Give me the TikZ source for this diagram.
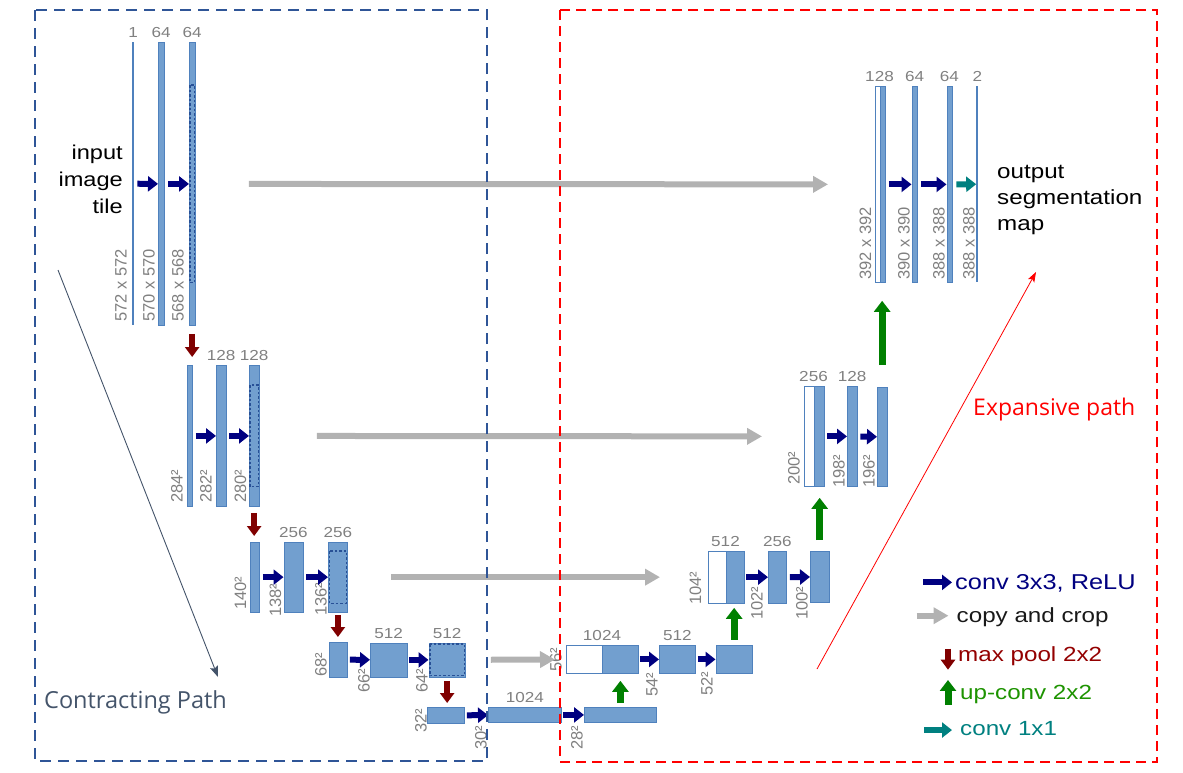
\documentclass[tikz,border=0pt]{standalone}
\usepackage{fontspec}
\setmainfont[FakeStretch=1.18]{Liberation Sans}
\newfontfamily\dimfont{Liberation Sans}
\newfontfamily\pathfont{Open Sans}
\usetikzlibrary{arrows.meta, positioning}
\definecolor{mapfill}{RGB}{114,159,207}
\definecolor{mapedge}{RGB}{79,129,189}
\definecolor{cropedge}{RGB}{40,80,150}
\definecolor{lblgray}{RGB}{128,128,128}
\definecolor{convblue}{RGB}{0,0,128}
\definecolor{copygray}{RGB}{178,178,178}
\definecolor{poolred}{RGB}{128,0,0}
\definecolor{upgreen}{RGB}{0,128,0}
\definecolor{outteal}{RGB}{0,128,128}
\definecolor{contractblue}{RGB}{47,85,151}
\definecolor{pathgray}{RGB}{68,84,106}
\tikzstyle{fmap} = [rectangle, anchor=north west, inner sep=0, draw=mapedge, fill=mapfill, line width=0.8pt]
\tikzstyle{cropmap} = [fmap, fill=white]
\tikzstyle{thinmap} = [rectangle, anchor=north west, inner sep=0, fill=mapedge, minimum width=1.8pt]
\tikzstyle{cropline} = [draw=cropedge, line width=1.2pt, dash pattern=on 2.5pt off 2pt]
\tikzstyle{chlabel} = [anchor=south, inner sep=0, yshift=4pt, text=lblgray, font=\fontsize{14.5}{14.5}\selectfont]
\tikzstyle{dimlabel} = [anchor=south west, rotate=90, inner sep=0, text=lblgray, font=\dimfont\fontsize{16.5}{16.5}\selectfont]
\tikzstyle{convarrow} = [draw=convblue, line width=6pt, -{Triangle[length=10pt,width=15pt]}]
\tikzstyle{outarrow} = [convarrow, draw=outteal]
\tikzstyle{copyarrow} = [draw=copygray, line width=6pt, -{Triangle[length=15pt,width=16pt]}]
\tikzstyle{poolarrow} = [draw=poolred, line width=6pt, -{Triangle[length=10pt,width=14pt]}]
\tikzstyle{uparrow} = [draw=upgreen, line width=7pt, -{Triangle[length=11pt,width=16pt]}]
\tikzstyle{legend} = [anchor=base west, inner sep=0, font=\fontsize{20.5}{20.5}\selectfont]
\tikzstyle{contractbox} = [draw=contractblue, line width=2.8pt, dash pattern=on 11pt off 7pt]
\tikzstyle{expandbox} = [draw=red, line width=2.2pt, dash pattern=on 10pt off 6pt]
\begin{document}
\begin{tikzpicture}[x=1pt, y=-1pt]
\useasboundingbox (0,0) rectangle (1183,772);

% contracting side
\node (in1) [thinmap, minimum height=283pt] at (132.1,42) {};
\node (c11) [fmap, minimum width=5.5pt, minimum height=283pt] at (158,42) {};
\node (c12) [fmap, minimum width=5.5pt, minimum height=283pt] at (189,42) {};

\node (p21) [fmap, minimum width=5.5pt, minimum height=141pt] at (186.5,365) {};
\node (c21) [fmap, minimum width=9.5pt, minimum height=141pt] at (216,365) {};
\node (c22) [fmap, minimum width=9.5pt, minimum height=141pt] at (249,365) {};

\node (p31) [fmap, minimum width=9.5pt, minimum height=69.5pt] at (249.5,542) {};
\node (c31) [fmap, minimum width=19pt, minimum height=69.5pt] at (283.5,542) {};
\node (c32) [fmap, minimum width=19pt, minimum height=69.5pt] at (328,542) {};

\node (p41) [fmap, minimum width=18.5pt, minimum height=34.5pt] at (328.5,642) {};
\node (c41) [fmap, minimum width=36.5pt, minimum height=34pt] at (370,642.5) {};
\node (c42) [fmap, minimum width=36.5pt, minimum height=34pt] at (428.5,642.5) {};

\node (p51) [fmap, minimum width=37pt, minimum height=16pt] at (427,707) {};
\node (c51) [fmap, minimum width=73pt, minimum height=15pt] at (488,707) {};
\node (c52) [fmap, minimum width=72pt, minimum height=15pt] at (584,707) {};

% expansive side
\node (w4) [cropmap, minimum width=36pt, minimum height=28pt] at (566,645) {};
\node (u4) [fmap, minimum width=36pt, minimum height=28pt] at (602,645) {};
\node (e41) [fmap, minimum width=36pt, minimum height=28pt] at (659,645) {};
\node (e42) [fmap, minimum width=36.5pt, minimum height=28pt] at (715.5,645) {};

\node (w3) [cropmap, minimum width=18pt, minimum height=52.5pt] at (707.5,550.5) {};
\node (u3) [fmap, minimum width=18pt, minimum height=52.5pt] at (725.5,550.5) {};
\node (e31) [fmap, minimum width=18pt, minimum height=52.5pt] at (768,550.5) {};
\node (e32) [fmap, minimum width=18.5pt, minimum height=51pt] at (810,551) {};

\node (w2) [cropmap, minimum width=10pt, minimum height=100pt] at (803.5,386) {};
\node (u2) [fmap, minimum width=10pt, minimum height=100pt] at (813.5,386) {};
\node (e21) [fmap, minimum width=9.5pt, minimum height=100pt] at (847,386) {};
\node (e22) [fmap, minimum width=9.5pt, minimum height=99pt] at (877,387) {};

\node (w1) [cropmap, minimum width=5pt, minimum height=196pt] at (874.5,86) {};
\node (u1) [fmap, minimum width=5.5pt, minimum height=196pt] at (879.5,86) {};
\node (e11) [fmap, minimum width=5.5pt, minimum height=196pt] at (911.5,86) {};
\node (e12) [fmap, minimum width=5pt, minimum height=196pt] at (946.5,86) {};
\node (out) [thinmap, minimum height=196pt] at (976.2,86) {};

% cropped parts
\draw [cropline] ([xshift=1pt,yshift=-43pt]c12.north west) rectangle ([xshift=-1pt,yshift=43pt]c12.south east);
\draw [cropline] ([xshift=1pt,yshift=-20pt]c22.north west) rectangle ([xshift=-1pt,yshift=20pt]c22.south east);
\draw [cropline] ([xshift=1.5pt,yshift=-9pt]c32.north west) rectangle ([xshift=-1.5pt,yshift=9pt]c32.south east);
\draw [cropline] ([xshift=1.5pt,yshift=-1.5pt]c42.north west) rectangle ([xshift=-1.5pt,yshift=1.5pt]c42.south east);

% channel numbers
\node [chlabel] at (in1.north) {1};
\node [chlabel] at (c11.north) {64};
\node [chlabel] at (c12.north) {64};
\node [chlabel] at (c21.north) {128};
\node [chlabel] at (c22.north) {128};
\node [chlabel] at (c31.north) {256};
\node [chlabel] at (c32.north) {256};
\node [chlabel] at (c41.north) {512};
\node [chlabel] at (c42.north) {512};
\node [chlabel] at (c51.north) {1024};
\node [chlabel] at (u4.north west) {1024};
\node [chlabel] at (e41.north) {512};
\node [chlabel] at (u3.north west) {512};
\node [chlabel] at (e31.north) {256};
\node [chlabel] at (u2.north west) {256};
\node [chlabel] at (e21.north) {128};
\node [chlabel] at (u1.north west) {128};
\node [chlabel] at (e11.north) {64};
\node [chlabel] at (e12.north) {64};
\node [chlabel] at (out.north) {2};

% map sizes
\node [dimlabel] at (127,322) {572 x 572};
\node [dimlabel] at (155,322) {570 x 570};
\node [dimlabel] at (184,322) {568 x 568};
\node [dimlabel] at (183,503) {284²};
\node [dimlabel] at (212,503) {282²};
\node [dimlabel] at (246.5,503) {280²};
\node [dimlabel] at (246.5,610) {140²};
\node [dimlabel] at (281.5,617) {138²};
\node [dimlabel] at (327,616) {136²};
\node [dimlabel] at (327,677) {68²};
\node [dimlabel] at (370,693) {66²};
\node [dimlabel] at (428,693) {64²};
\node [dimlabel] at (427,733) {32²};
\node [dimlabel] at (487,750) {30²};
\node [dimlabel] at (583,750) {28²};
\node [dimlabel] at (562,672) {56²};
\node [dimlabel] at (658,697) {54²};
\node [dimlabel] at (713,696) {52²};
\node [dimlabel] at (701.5,605) {104²};
\node [dimlabel] at (763,620) {102²};
\node [dimlabel] at (808,620) {100²};
\node [dimlabel] at (800,485) {200²};
\node [dimlabel] at (845,488) {198²};
\node [dimlabel] at (875,488) {196²};
\node [dimlabel] at (871.5,280) {392 x 392};
\node [dimlabel] at (910,280) {390 x 390};
\node [dimlabel] at (945,280) {388 x 388};
\node [dimlabel] at (975,280) {388 x 388};

% conv 3x3
\draw [convarrow, shorten <=3pt] (in1) -- (c11);
\draw [convarrow, shorten <=4pt] (c11) -- (c12);
\draw [convarrow, shorten <=3pt] (p21) -- (c21);
\draw [convarrow, shorten <=3pt] (c21) -- (c22);
\draw [convarrow, shorten <=3pt] (p31) -- (c31);
\draw [convarrow, shorten <=3pt] (c31) -- (c32);
\draw [convarrow, shorten <=2pt] (p41) -- (c41);
\draw [convarrow, shorten <=2pt] (c41) -- (c42);
\draw [convarrow, shorten <=2pt] (p51) -- (c51);
\draw [convarrow, shorten <=1pt] (c51) -- (c52);
\draw [convarrow, shorten <=1pt] (u4) -- (e41);
\draw [convarrow, shorten <=2pt] (e41) -- (e42);
\draw [convarrow, shorten <=2pt] (u3) -- (e31);
\draw [convarrow, shorten <=3pt] (e31) -- (e32);
\draw [convarrow, shorten <=3pt] (u2) -- (e21);
\draw [convarrow, shorten <=3pt] (e21) -- (e22);
\draw [convarrow, shorten <=3pt] (u1) -- (e11);
\draw [convarrow, shorten <=3pt] (e11) -- (e12);
\draw [outarrow, shorten <=4pt] (e12) -- (out);

% max pool
\draw [poolarrow, shorten <=8pt, shorten >=8pt] (c12.south) -- (c12.south |- p21.north);
\draw [poolarrow, shorten <=6pt, shorten >=6pt] (c22.south) -- (c22.south |- p31.north);
\draw [poolarrow, shorten <=3pt, shorten >=5pt] (c32.south) -- (c32.south |- p41.north);
\draw [poolarrow, shorten <=3.5pt, shorten >=4pt] (c42.south) -- (c42.south |- p51.north);

% up-conv
\draw [uparrow, shorten <=4pt, shorten >=7pt] (c52.north) -- (c52.north |- u4.south);
\draw [uparrow, shorten <=5.5pt, shorten >=4pt] (e42.north) -- (e42.north |- u3.south);
\draw [uparrow, shorten <=11pt, shorten >=11pt] (e32.north) -- (e32.north |- u2.south);
\draw [uparrow, shorten <=22pt, shorten >=18pt] (e22.north) -- (e22.north |- u1.south);

% copy and crop
\draw [copyarrow, shorten <=53.5pt, shorten >=46.5pt] (c12) -- (w1);
\draw [copyarrow, shorten <=57.5pt, shorten >=41.5pt] (c22) -- (w2);
\draw [copyarrow, shorten <=43pt, shorten >=47.5pt] (c32) -- (w3);
\draw [copyarrow, shorten <=25pt, shorten >=11pt] (c42) -- (w4);

% texts
\node (intext) [anchor=east, align=right, inner sep=0, font=\fontsize{20}{27}\selectfont] at (123,179) {input\\image\\tile};
\node (outtext) [anchor=west, align=left, inner sep=0, font=\fontsize{20.5}{26}\selectfont] at (997,200) {output\\segmentation\\map};

% legend
\node (lgconv) [legend, text=convblue, font=\fontsize{21.5}{21.5}\selectfont] at (955,589) {conv 3x3, ReLU};
\node (lgcopy) [legend, text=black!90] at (956.5,622.5) {copy and crop};
\node (lgpool) [legend, text=poolred!85!red] at (958,661.5) {max pool 2x2};
\node (lgup) [legend, text=upgreen!85!lime] at (960,699) {up-conv 2x2};
\node (lgout) [legend, text=outteal] at (960,735) {conv 1x1};
\draw [convarrow] ([xshift=-32pt,yshift=0.5pt]lgconv.west) -- ([xshift=-3pt,yshift=0.5pt]lgconv.west);
\draw [copyarrow] ([xshift=-40pt,yshift=1.5pt]lgcopy.west) -- ([xshift=-8pt,yshift=1.5pt]lgcopy.west);
\draw [poolarrow] ([xshift=-10pt,yshift=7.5pt]lgpool.west) -- ([xshift=-10pt,yshift=-13.5pt]lgpool.west);
\draw [uparrow] ([xshift=-12pt,yshift=-11pt]lgup.west) -- ([xshift=-12pt,yshift=14pt]lgup.west);
\draw [outarrow] ([xshift=-36pt,yshift=-2pt]lgout.west) -- ([xshift=-8pt,yshift=-2pt]lgout.west);

% paths
\draw [contractbox] (35,10) rectangle (487,761);
\draw [expandbox] (560,10) rectangle (1157,762);
\node (contract) [anchor=base west, inner sep=0, text=pathgray, font=\pathfont\fontsize{23.5}{23.5}\selectfont] at (44,708.5) {Contracting Path};
\node (expand) [anchor=base west, inner sep=0, text=red, font=\pathfont\fontsize{23}{23}\selectfont] at (973,415) {Expansive path};
\coordinate (contractA) at (58,270);
\coordinate (contractB) at (218,677);
\draw [pathgray, line width=0.9pt, -{Stealth[length=11pt,width=8pt,inset=2pt]}] (contractA) -- (contractB);
\coordinate (expandA) at (817,669);
\coordinate (expandB) at (1036,272);
\draw [red, line width=0.8pt, -{Stealth[length=10pt,width=7pt,inset=2pt]}] (expandA) -- (expandB);
\end{tikzpicture}
\end{document}
